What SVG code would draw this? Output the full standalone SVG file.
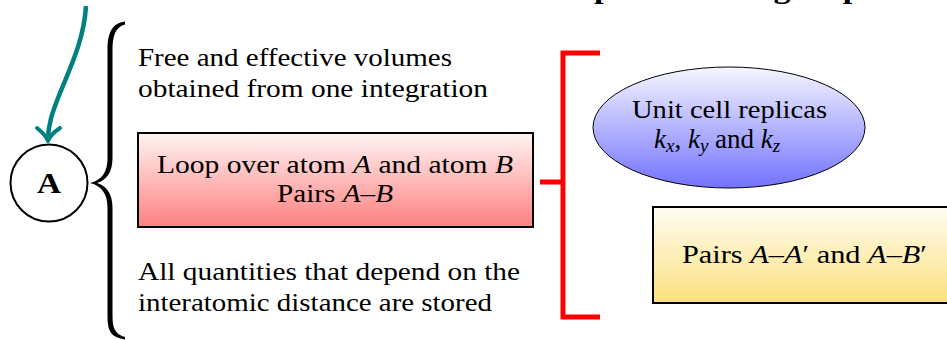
<svg xmlns="http://www.w3.org/2000/svg" width="947" height="340" viewBox="0 0 947 340">
<defs>
<linearGradient id="gPink" x1="0" y1="0" x2="0" y2="1"><stop offset="0" stop-color="#fff4f4"/><stop offset="1" stop-color="#ff8080"/></linearGradient>
<linearGradient id="gBlue" x1="0" y1="0" x2="0" y2="1"><stop offset="0" stop-color="#f6f6ff"/><stop offset="1" stop-color="#7272ff"/></linearGradient>
<linearGradient id="gYel" x1="0" y1="0" x2="0" y2="1"><stop offset="0" stop-color="#fffdf2"/><stop offset="1" stop-color="#fbe07c"/></linearGradient>
</defs>
<style>
text{font-family:"Liberation Serif","Times New Roman",serif;font-size:25px;fill:#000}
.i{font-style:italic}
.sub{font-style:italic;font-size:19px}
.hd{font-weight:bold;font-size:28px}
.big{font-weight:bold;font-size:29px}
</style>
<text class="hd" x="22" y="-2" textLength="910" lengthAdjust="spacingAndGlyphs">Initialization of all terms that do not depend on the grid points</text>
<g id="connectors" fill="none">
<path d="M86,6 C84,40 70,68 60,93 C52,113 48,125 48,140" stroke="#008080" stroke-width="4.5"/>
<path d="M37,128 C42,132 46,136 48,141 C50,136 54,132 60,128" stroke="#008080" stroke-width="4" stroke-linecap="round" stroke-linejoin="round"/>
<path d="M125,21.5 C112,23 107.5,33 107.5,50 L107.5,158 C107.5,172 102,180 90,183 C102,186 107.5,194 107.5,208 L107.5,316 C107.5,333 112,337 125,339.5 L125,337 C115,334 112.5,328 112.5,316 L112.5,208 C112.5,193 106,186 97,183 C106,180 112.5,173 112.5,158 L112.5,50 C112.5,37 115,27 125,24.5 Z" fill="#000" stroke="none"/>
<path d="M600,53 H563 V317 H600 M540,182 H563" stroke="#ff0000" stroke-width="5"/>
</g>
<g id="nodeA">
<circle cx="49" cy="183" r="38.5" fill="#fff" stroke="#000" stroke-width="2"/>
<text class="big" x="37" y="193" textLength="24" lengthAdjust="spacingAndGlyphs">A</text>
</g>
<g id="topText">
<text x="138" y="66" textLength="314" lengthAdjust="spacingAndGlyphs">Free and effective volumes</text>
<text x="138" y="97" textLength="350" lengthAdjust="spacingAndGlyphs">obtained from one integration</text>
</g>
<g id="loopBox">
<rect x="138" y="133" width="395" height="94" fill="url(#gPink)" stroke="#000" stroke-width="2"/>
<text x="157" y="173" textLength="356" lengthAdjust="spacingAndGlyphs">Loop over atom <tspan class="i">A</tspan> and atom <tspan class="i">B</tspan></text>
<text x="277" y="202" textLength="116" lengthAdjust="spacingAndGlyphs">Pairs <tspan class="i">A</tspan>–<tspan class="i">B</tspan></text>
</g>
<g id="bottomText">
<text x="138" y="280" textLength="382" lengthAdjust="spacingAndGlyphs">All quantities that depend on the</text>
<text x="138" y="311" textLength="354" lengthAdjust="spacingAndGlyphs">interatomic distance are stored</text>
</g>
<g id="replicas">
<ellipse cx="729" cy="127.5" rx="136" ry="60.5" fill="url(#gBlue)" stroke="#000" stroke-width="1"/>
<text x="632" y="118" textLength="195" lengthAdjust="spacingAndGlyphs">Unit cell replicas</text>
<text x="654" y="148" style="font-size:27px"><tspan class="i">k</tspan><tspan class="sub" dy="4">x</tspan><tspan dy="-4">, </tspan><tspan class="i">k</tspan><tspan class="sub" dy="4">y</tspan><tspan dy="-4"> and </tspan><tspan class="i">k</tspan><tspan class="sub" dy="4">z</tspan></text>
</g>
<g id="pairsBox">
<rect x="653" y="207" width="305" height="96" fill="url(#gYel)" stroke="#000" stroke-width="2"/>
<text x="682" y="263" textLength="245" lengthAdjust="spacingAndGlyphs">Pairs <tspan class="i">A</tspan>–<tspan class="i">A</tspan>′ and <tspan class="i">A</tspan>–<tspan class="i">B</tspan>′</text>
</g>
</svg>
